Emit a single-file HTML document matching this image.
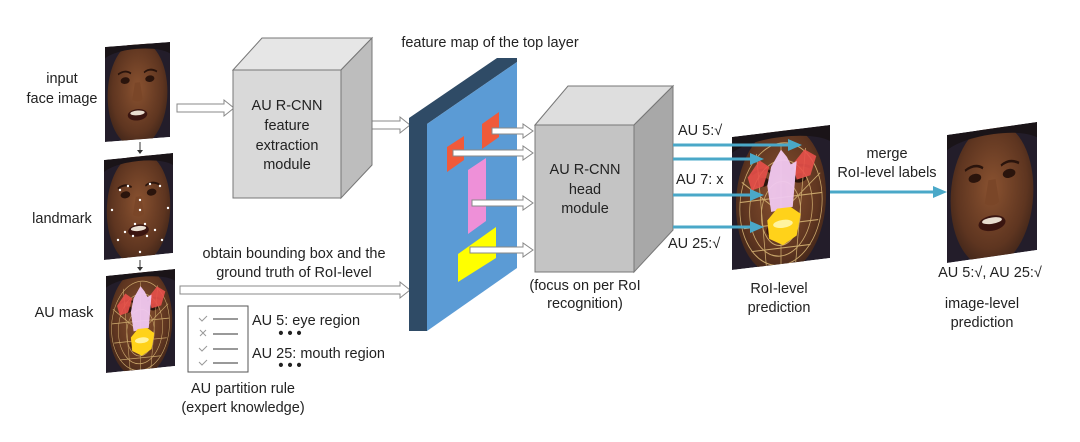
<!DOCTYPE html>
<html><head><meta charset="utf-8"><style>
html,body{margin:0;padding:0;background:#fff;}
svg{display:block;}
text{font-family:"Liberation Sans",Arial,sans-serif;font-size:14.5px;fill:#222;}
</style></head><body>
<svg width="1080" height="442" viewBox="0 0 1080 442" xmlns="http://www.w3.org/2000/svg">
<defs>
<clipPath id="fc" clipPathUnits="userSpaceOnUse"><rect x="0" y="0" width="100" height="100"/></clipPath>
<radialGradient id="skin" cx="50%" cy="45%" r="60%">
<stop offset="0" stop-color="#8a5230"/><stop offset="0.7" stop-color="#5e3520"/><stop offset="1" stop-color="#3a2218"/>
</radialGradient>
<g id="face">
<g clip-path="url(#fc)">
<rect x="0" y="0" width="100" height="100" fill="#231d2a"/>
<ellipse cx="50" cy="52" rx="46" ry="56" fill="url(#skin)"/>
<path d="M0 0H100V12C80 2 20 2 0 12Z" fill="#1a1418"/>
<ellipse cx="31" cy="37" rx="7" ry="3.5" fill="#2a140c"/>
<ellipse cx="69" cy="37" rx="7" ry="3.5" fill="#2a140c"/>
<path d="M20 30Q31 25 40 30M60 30Q69 25 80 30" stroke="#2a140c" stroke-width="2" fill="none"/>
<path d="M46 40L42 58Q50 62 58 58L54 40" fill="#7a4628"/>
<ellipse cx="50" cy="74" rx="15" ry="6" fill="#3a1510"/>
<ellipse cx="50" cy="72" rx="11" ry="2.5" fill="#e8ddd0"/>
</g>
</g>
<g id="mask">
<g clip-path="url(#fc)">
<g stroke="#c9a66b" stroke-width="0.8" fill="none">
<ellipse cx="50" cy="55" rx="42" ry="46"/>
<ellipse cx="50" cy="58" rx="32" ry="36"/>
<ellipse cx="50" cy="62" rx="20" ry="24"/>
<path d="M8 50H92M12 70H88M20 88H80M50 10V100M25 15L35 100M75 15L65 100M10 35L40 55M90 35L60 55"/>
</g>
<polygon points="16,32 28,20 38,26 32,40 20,42" fill="#e8504a" opacity="0.9"/>
<polygon points="62,26 74,16 86,22 80,36 66,38" fill="#e8504a" opacity="0.9"/>
<polygon points="40,26 50,14 56,20 60,26 66,24 62,58 40,60 36,40" fill="#f0c8f0" opacity="0.95"/>
<polygon points="36,66 46,58 60,58 70,64 66,80 52,86 38,80" fill="#ffd21a"/>
<ellipse cx="52" cy="70" rx="10" ry="3" fill="#fff3a0"/>
</g>
</g>
</defs>

<use href="#face" transform="matrix(0.65,-0.05,0,0.95,105,47)"/>
<use href="#face" transform="matrix(0.69,-0.07,0,1.0,104,160)"/>
<g fill="#fff">
<circle cx="120" cy="190" r="1.2"/><circle cx="128" cy="186" r="1.2"/><circle cx="150" cy="184" r="1.2"/><circle cx="160" cy="186" r="1.2"/>
<circle cx="140" cy="200" r="1.2"/><circle cx="140" cy="210" r="1.2"/><circle cx="135" cy="224" r="1.2"/><circle cx="145" cy="224" r="1.2"/>
<circle cx="125" cy="232" r="1.2"/><circle cx="155" cy="230" r="1.2"/><circle cx="133" cy="236" r="1.2"/><circle cx="147" cy="236" r="1.2"/>
<circle cx="112" cy="210" r="1.2"/><circle cx="168" cy="208" r="1.2"/><circle cx="118" cy="240" r="1.2"/><circle cx="162" cy="240" r="1.2"/><circle cx="140" cy="252" r="1.2"/>
</g>
<g transform="matrix(0.69,-0.07,0,0.97,106,276)"><use href="#face"/><use href="#mask"/></g>
<g stroke="#333" stroke-width="1"><line x1="140" y1="142" x2="140" y2="151"/><line x1="140" y1="260" x2="140" y2="268"/></g>
<polygon points="137,150 143,150 140,154" fill="#333"/>
<polygon points="137,267 143,267 140,271" fill="#333"/>

<text x="62" y="83" text-anchor="middle">input</text>
<text x="62" y="103" text-anchor="middle">face image</text>
<text x="62" y="223" text-anchor="middle">landmark</text>
<text x="64" y="317" text-anchor="middle">AU mask</text>

<g fill="#fff" stroke="#888" stroke-width="1">
<polygon points="177,104 224,104 224,100 234,108 224,116 224,112 177,112"/>
<polygon points="372,121 400,121 400,117 410,125 400,133 400,129 372,129"/>
<polygon points="180,286 400,286 400,282 410,290 400,298 400,294 180,294"/>
</g>

<polygon points="233,70 262,38 372,38 341,70" fill="#e6e6e6" stroke="#777"/>
<polygon points="341,70 372,38 372,165 341,198" fill="#bdbdbd" stroke="#777"/>
<rect x="233" y="70" width="108" height="128" fill="#d9d9d9" stroke="#777"/>
<text x="287" y="110" text-anchor="middle">AU R-CNN</text>
<text x="287" y="130" text-anchor="middle">feature</text>
<text x="287" y="150" text-anchor="middle">extraction</text>
<text x="287" y="169" text-anchor="middle">module</text>

<text x="490" y="47" text-anchor="middle">feature map of the top layer</text>
<polygon points="409,118 497,58 517,58 517,62 427,124 427,331 409,331" fill="#2f4b66"/>
<polygon points="427,124 517,62 517,268 427,331" fill="#5b9bd5"/>
<polygon points="447,147 464,136 464,160 447,172" fill="#f05a3a"/>
<polygon points="482,124 499,112 499,137 482,149" fill="#f05a3a"/>
<polygon points="468,170 486,158 486,221 468,234" fill="#ee90d8"/>
<polygon points="458,254 496,227 496,258 458,282" fill="#ffff00"/>

<g fill="#fff" stroke="#888" stroke-width="1">
<polygon points="492,128 523,128 523,124 533,131 523,138 523,134 492,134"/>
<polygon points="453,150 523,150 523,146 533,153 523,160 523,156 453,156"/>
<polygon points="472,200 523,200 523,196 533,203 523,210 523,206 472,206"/>
<polygon points="470,247 523,247 523,243 533,250 523,257 523,253 470,253"/>
</g>

<polygon points="535,125 568,86 673,86 634,125" fill="#dedede" stroke="#777"/>
<polygon points="634,125 673,86 673,230 634,272" fill="#a8a8a8" stroke="#777"/>
<rect x="535" y="125" width="99" height="147" fill="#c4c4c4" stroke="#777"/>
<text x="585" y="174" text-anchor="middle">AU R-CNN</text>
<text x="585" y="194" text-anchor="middle">head</text>
<text x="585" y="213" text-anchor="middle">module</text>
<text x="585" y="290" text-anchor="middle">(focus on per RoI</text>
<text x="585" y="308" text-anchor="middle">recognition)</text>

<g transform="matrix(0.98,-0.12,0,1.33,732,137)"><use href="#face"/><use href="#mask"/></g>

<g stroke="#4aa8c8" stroke-width="3">
<line x1="673" y1="145" x2="790" y2="145"/>
<line x1="673" y1="159" x2="752" y2="159"/>
<line x1="673" y1="195" x2="752" y2="195"/>
<line x1="673" y1="227" x2="752" y2="227"/>
<line x1="830" y1="192" x2="935" y2="192"/>
</g>
<g fill="#4aa8c8">
<polygon points="788,139 802,145 788,151"/>
<polygon points="750,153 764,159 750,165"/>
<polygon points="750,189 764,195 750,201"/>
<polygon points="750,221 764,227 750,233"/>
<polygon points="933,186 947,192 933,198"/>
</g>
<text x="678" y="135">AU 5:√</text>
<text x="676" y="184">AU 7: x</text>
<text x="668" y="248">AU 25:√</text>
<text x="779" y="293" text-anchor="middle">RoI-level</text>
<text x="779" y="312" text-anchor="middle">prediction</text>
<text x="887" y="158" text-anchor="middle">merge</text>
<text x="887" y="177" text-anchor="middle">RoI-level labels</text>

<use href="#face" transform="matrix(0.9,-0.13,0,1.28,947,135)"/>
<text x="990" y="277" text-anchor="middle">AU 5:√, AU 25:√</text>
<text x="982" y="308" text-anchor="middle">image-level</text>
<text x="982" y="327" text-anchor="middle">prediction</text>

<text x="294" y="258" text-anchor="middle">obtain bounding box and the</text>
<text x="294" y="277" text-anchor="middle">ground truth of RoI-level</text>
<rect x="188" y="306" width="60" height="66" fill="#fff" stroke="#555"/>
<g stroke="#333" stroke-width="1">
<line x1="213" y1="319" x2="238" y2="319"/><line x1="213" y1="334" x2="238" y2="334"/>
<line x1="213" y1="349" x2="238" y2="349"/><line x1="213" y1="363" x2="238" y2="363"/>
</g>
<g stroke="#999" stroke-width="1" fill="none">
<path d="M199 318l3 3 5-5M199 348l3 3 5-5M199 362l3 3 5-5"/>
<path d="M200 330l6 6M206 330l-6 6"/>
</g>
<text x="252" y="325">AU 5: eye region</text>
<text x="290" y="338" text-anchor="middle" style="font-weight:bold">• • •</text>
<text x="252" y="358">AU 25: mouth region</text>
<text x="290" y="370" text-anchor="middle" style="font-weight:bold">• • •</text>
<text x="243" y="393" text-anchor="middle">AU partition rule</text>
<text x="243" y="412" text-anchor="middle">(expert knowledge)</text>
</svg>
</body></html>
